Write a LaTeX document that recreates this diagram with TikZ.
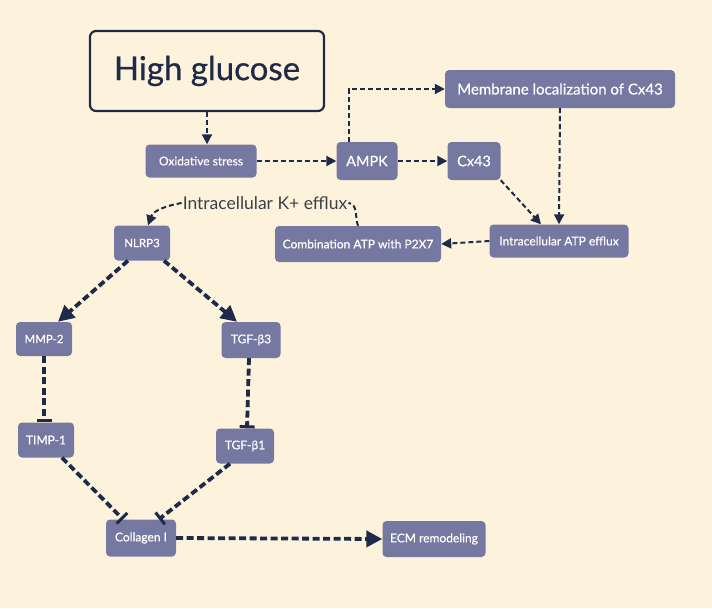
\documentclass[tikz,border=0pt]{standalone}
\usepackage{fontspec}
\setmainfont{Lato}
\newfontfamily\medfont{Lato}[FakeBold=0.6]
\usetikzlibrary{arrows.meta}
\definecolor{bg}{HTML}{FDF3DC}
\definecolor{boxc}{HTML}{7579A1}
\definecolor{navy}{HTML}{1E2B48}
\definecolor{ktext}{HTML}{3A3F4A}
\tikzset{
  box/.style={draw=none, fill=boxc, rounded corners=4pt, text=white, font=\medfont\fontsize{12}{14}\selectfont, inner sep=2pt, align=center},
  thin/.style={draw=navy, line width=2pt, dash pattern=on 5pt off 3pt},
  thick/.style={draw=navy, line width=3.8pt, dash pattern=on 7pt off 3.5pt},
  arr/.style={-{Triangle[length=10pt,width=10pt]}},
  bigarr/.style={-{Triangle[length=16pt,width=16pt]}},
  inh/.style={-{Bar[width=15pt,line width=3pt]}}
}
\begin{document}
\begin{tikzpicture}[x=1pt,y=-1pt]
\fill[bg] (0,0) rectangle (712,608);
\useasboundingbox (0,0) rectangle (712,608);
\node[draw=navy, line width=2.2pt, rounded corners=6pt, fill=bg, minimum width=234pt, minimum height=80pt, font=\medfont\fontsize{33}{38}\selectfont, text=navy] (hg) at (207,71) {High glucose};
\node[box, minimum width=111pt, minimum height=33pt] (ox) at (201,161) {Oxidative stress};
\node[box, minimum width=61pt, minimum height=38pt, font=\medfont\fontsize{14.5}{16}\selectfont] (ampk) at (367,161) {AMPK};
\node[box, minimum width=53pt, minimum height=38pt, font=\medfont\fontsize{14.5}{16}\selectfont] (cx) at (474,161) {Cx43};
\node[box, minimum width=230pt, minimum height=38pt, font=\medfont\fontsize{15}{17}\selectfont] (mem) at (560,89) {Membrane localization of Cx43};
\node[box, minimum width=139pt, minimum height=33pt] (atp) at (559,241) {Intracellular ATP efflux};
\node[box, minimum width=166pt, minimum height=36pt] (comb) at (358,244) {Combination ATP with P2X7};
\node[box, minimum width=56pt, minimum height=35pt, font=\medfont\fontsize{11.5}{13}\selectfont] (nl) at (142,243) {NLRP3};
\node[inner sep=1pt, text=ktext, font=\fontsize{17.5}{20}\selectfont] (k) at (265,203) {Intracellular K+ efflux};
\node[box, minimum width=56pt, minimum height=34pt, font=\medfont\fontsize{11.5}{13}\selectfont] (mmp) at (44,339) {MMP-2};
\node[box, minimum width=59pt, minimum height=36pt] (tg3) at (251,340) {TGF-β3};
\node[box, minimum width=56pt, minimum height=35pt] (timp) at (46,440) {TIMP-1};
\node[box, minimum width=58pt, minimum height=35pt] (tg1) at (245,446) {TGF-β1};
\node[box, minimum width=70pt, minimum height=37pt] (col) at (141,538) {Collagen I};
\node[box, minimum width=103pt, minimum height=36pt] (ecm) at (434,539) {ECM remodeling};

\draw[thin,arr] (hg.south) -- (hg.south |- ox.north);
\draw[thin,arr] (ox.east) -- (ampk.west);
\draw[thin,arr] (ampk.east) -- (cx.west);
\draw[thin,arr] ([xshift=-18pt]ampk.north) |- (mem.west);
\draw[thin,arr] (mem.south) -- (atp.north);
\draw[thin,arr] (cx.south east) -- ([xshift=-18pt]atp.north);
\draw[thin,arr] (atp.west) -- (comb.east);
\draw[thin] (comb.north) to[out=110,in=-5] (k.east);
\draw[thin,arr] (k.west) to[out=190,in=70] ([xshift=6pt]nl.north);
\draw[thick,bigarr] ([xshift=-14pt]nl.south) -- ([xshift=14pt]mmp.north);
\draw[thick,bigarr] ([xshift=22pt]nl.south) -- ([xshift=-14pt]tg3.north);
\draw[thick,inh] (mmp.south) -- (timp.north -| mmp.south);
\draw[thick,inh] ([xshift=-2pt]tg3.south) -- ([xshift=2pt]tg1.north);
\draw[thick,inh] ([xshift=16pt]timp.south) -- ([xshift=-18pt]col.north);
\draw[thick,inh] ([xshift=-15pt]tg1.south) -- ([xshift=18pt]col.north);
\draw[thick,bigarr] (col.east) -- (ecm.west);
\end{tikzpicture}
\end{document}
